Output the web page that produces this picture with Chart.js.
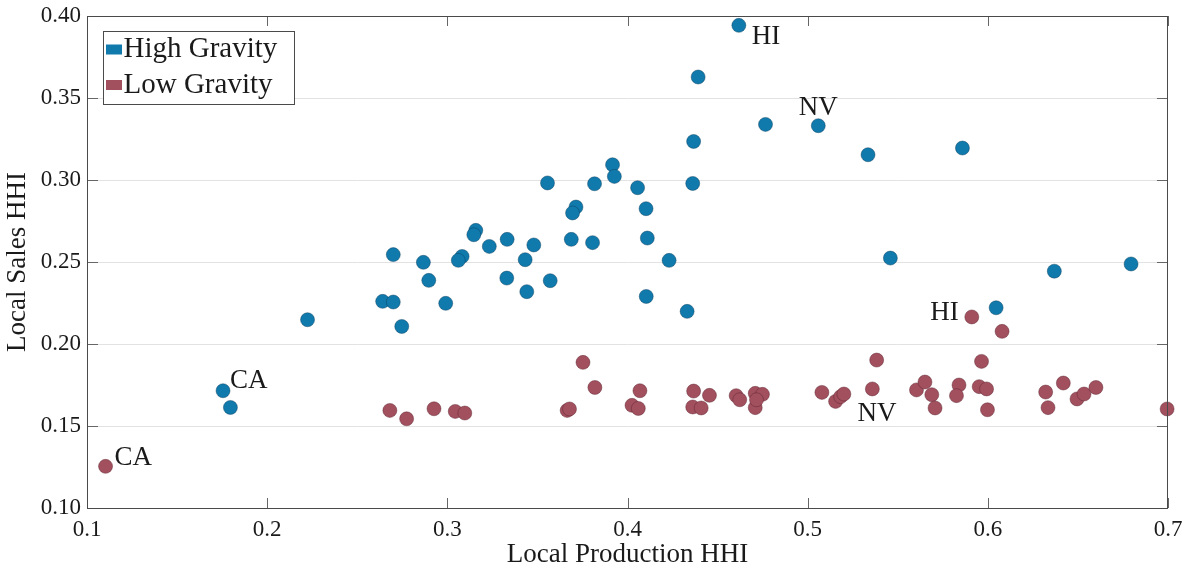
<!DOCTYPE html>
<html>
<head>
<meta charset="utf-8">
<script src="https://cdn.jsdelivr.net/npm/chart.js@4.4.1/dist/chart.umd.min.js"></script>
<style>
  html, body { margin: 0; padding: 0; background: #fff; }
  #wrap { width: 1188px; height: 571px; position: relative; }
</style>
</head>
<body>
<div id="wrap"><canvas id="scatter"></canvas></div>
<script>
const xTicks = [0.1, 0.2, 0.3, 0.4, 0.5, 0.6, 0.7];
const yTicks = [0.10, 0.15, 0.20, 0.25, 0.30, 0.35, 0.40];
const seriesNames = ['High Gravity', 'Low Gravity'];

const highX = [0.4618, 0.4392, 0.4766, 0.5059, 0.5335, 0.5859, 0.4367, 0.3917, 0.3927, 0.3556,
  0.3817, 0.4056, 0.4362, 0.4103, 0.3714, 0.3695, 0.3158, 0.3147, 0.3233, 0.3332,
  0.3480, 0.3688, 0.3806, 0.4110, 0.3082, 0.3061, 0.3432, 0.4231, 0.2700, 0.2867,
  0.5459, 0.6369, 0.6795, 0.2897, 0.3330, 0.3571, 0.3441, 0.2641, 0.2700, 0.2991,
  0.4104, 0.4331, 0.2224, 0.2747, 0.6046, 0.1755, 0.1796];
const highY = [0.3943, 0.3628, 0.3339, 0.3331, 0.3154, 0.3195, 0.3235, 0.3093, 0.3022, 0.2982,
  0.2977, 0.2953, 0.2979, 0.2825, 0.2835, 0.2799, 0.2693, 0.2666, 0.2595, 0.2638,
  0.2604, 0.2638, 0.2618, 0.2646, 0.2534, 0.2510, 0.2514, 0.2510, 0.2545, 0.2498,
  0.2524, 0.2444, 0.2488, 0.2388, 0.2402, 0.2386, 0.2319, 0.2260, 0.2256, 0.2248,
  0.2290, 0.2199, 0.2148, 0.2107, 0.2221, 0.1715, 0.1613];

const lowX = [0.1103, 0.2681, 0.2774, 0.2926, 0.3044, 0.3097, 0.3753, 0.3819, 0.3665, 0.3678,
  0.4069, 0.4025, 0.4060, 0.4367, 0.4455, 0.4362, 0.4409, 0.4603, 0.4623, 0.4709,
  0.4749, 0.4709, 0.4716, 0.5079, 0.5155, 0.5183, 0.5201, 0.5383, 0.5359, 0.5604,
  0.5651, 0.5689, 0.5707, 0.5840, 0.5826, 0.5911, 0.6079, 0.5965, 0.5952, 0.5993,
  0.5998, 0.6321, 0.6334, 0.6419, 0.6495, 0.6534, 0.6600, 0.6995];
const lowY = [0.1254, 0.1595, 0.1544, 0.1605, 0.1589, 0.1579, 0.1888, 0.1735, 0.1595, 0.1604,
  0.1715, 0.1626, 0.1607, 0.1713, 0.1687, 0.1616, 0.1610, 0.1685, 0.1660, 0.1699,
  0.1693, 0.1612, 0.1660, 0.1705, 0.1650, 0.1679, 0.1695, 0.1902, 0.1726, 0.1720,
  0.1768, 0.1691, 0.1610, 0.1750, 0.1685, 0.2165, 0.2077, 0.1894, 0.1740, 0.1726,
  0.1599, 0.1707, 0.1612, 0.1762, 0.1665, 0.1695, 0.1735, 0.1604];

// state names attached to points (index -> text)
const highTags = {0: 'HI', 3: 'NV', 45: 'CA'};
const lowTags = {0: 'CA', 35: 'HI', 24: 'NV'};

const BLUE = 'rgb(17,122,173)';
const RED = 'rgb(162,79,94)';
const SERIF = '"Liberation Serif", "DejaVu Serif", serif';
const INK = '#1a1a1a';

Chart.defaults.font.family = SERIF;
Chart.defaults.color = INK;

const toPoints = (xs, ys) => xs.map((x, i) => ({x: x, y: ys[i]}));

// pixel offsets of each tag from its point: [dx, dy(baseline), align]
const tagPlace = {
  'High Gravity': {HI: [13, 19, 'left'], NV: [0, -11, 'center'], CA: [7, -3, 'left']},
  'Low Gravity': {CA: [9, -1, 'left'], HI: [-13, 3, 'right'], NV: [22, 20, 'left']}
};

const frame = {
  id: 'frame',
  afterDatasetsDraw(chart) {
    const {ctx, chartArea: a, scales} = chart;
    ctx.save();
    ctx.strokeStyle = '#666';
    ctx.lineWidth = 1;
    ctx.beginPath();
    xTicks.forEach(v => {
      const px = Math.round(scales.x.getPixelForValue(v)) + 0.5;
      ctx.moveTo(px, a.top); ctx.lineTo(px, a.top + 10);
      ctx.moveTo(px, a.bottom); ctx.lineTo(px, a.bottom - 10);
    });
    yTicks.forEach(v => {
      const py = Math.round(scales.y.getPixelForValue(v)) + 0.5;
      ctx.moveTo(a.left, py); ctx.lineTo(a.left + 11, py);
      ctx.moveTo(a.right, py); ctx.lineTo(a.right - 11, py);
    });
    ctx.stroke();
    ctx.strokeStyle = '#4a4a4a';
    ctx.strokeRect(a.left + 0.5, a.top + 0.5, a.right - a.left - 1, a.bottom - a.top);
    ctx.restore();
  },
  afterDraw(chart) {
    const {ctx, chartArea: a} = chart;
    ctx.save();
    // state tags
    ctx.fillStyle = INK;
    ctx.font = '27px ' + SERIF;
    ctx.textBaseline = 'alphabetic';
    chart.data.datasets.forEach((ds, di) => {
      const meta = chart.getDatasetMeta(di);
      const tags = di === 0 ? highTags : lowTags;
      Object.keys(tags).forEach(k => {
        const el = meta.data[+k];
        const name = tags[k];
        const p = tagPlace[ds.label][name];
        ctx.textAlign = p[2];
        ctx.fillText(name, el.x + p[0], el.y + p[1]);
      });
    });
    // legend box
    const bx = Math.round(a.left + 16) + 0.5, by = Math.round(a.top + 15) + 0.5;
    const bw = 191, bh = 73;
    ctx.fillStyle = '#fff';
    ctx.fillRect(bx, by, bw, bh);
    ctx.strokeStyle = '#4a4a4a';
    ctx.lineWidth = 1;
    ctx.strokeRect(bx, by, bw, bh);
    ctx.font = '29px ' + SERIF;
    ctx.textAlign = 'left';
    chart.data.datasets.forEach((ds, i) => {
      const rowY = by + 18 + i * 35.5;
      ctx.fillStyle = ds.backgroundColor;
      ctx.fillRect(bx + 2.5, rowY - 5, 16, 10);
      ctx.fillStyle = INK;
      ctx.fillText(ds.label, bx + 20, by + 25.5 + i * 35.5);
    });
    ctx.restore();
  }
};

new Chart(document.getElementById('scatter'), {
  type: 'scatter',
  data: {
    datasets: [
      {
        label: seriesNames[0],
        data: toPoints(highX, highY),
        backgroundColor: BLUE,
        borderColor: 'rgba(10,60,90,0.55)',
        borderWidth: 0.8,
        pointRadius: 7,
        clip: false
      },
      {
        label: seriesNames[1],
        data: toPoints(lowX, lowY),
        backgroundColor: RED,
        borderColor: 'rgba(90,35,45,0.55)',
        borderWidth: 0.8,
        pointRadius: 7,
        clip: false
      }
    ]
  },
  options: {
    responsive: true,
    maintainAspectRatio: false,
    animation: false,
    layout: {padding: {top: 16, right: 20, left: 0, bottom: 0}},
    plugins: {
      legend: {display: false},
      tooltip: {enabled: false}
    },
    scales: {
      x: {
        type: 'linear',
        min: 0.1,
        max: 0.7,
        afterBuildTicks: s => { s.ticks = xTicks.map(v => ({value: v})); },
        afterFit: s => { s.height = 63; s.paddingLeft = 0; s.paddingRight = 0; },
        grid: {display: false, drawTicks: false},
        border: {display: false},
        ticks: {
          padding: 8,
          font: {size: 23},
          color: INK,
          maxRotation: 0,
          callback: v => v.toFixed(1)
        },
        title: {
          display: true,
          text: 'Local Production HHI',
          font: {size: 27},
          color: INK,
          padding: {top: 0, bottom: 0}
        }
      },
      y: {
        type: 'linear',
        min: 0.1,
        max: 0.4,
        afterBuildTicks: s => { s.ticks = yTicks.map(v => ({value: v})); },
        afterFit: s => { s.width = 87; s.paddingTop = 0; s.paddingBottom = 0; },
        grid: {color: '#e2e2e2', lineWidth: 1, drawTicks: false},
        border: {display: false},
        ticks: {
          padding: 6,
          font: {size: 23},
          color: INK,
          callback: v => v.toFixed(2)
        },
        title: {
          display: true,
          text: 'Local Sales HHI',
          font: {size: 27},
          color: INK,
          padding: {top: 2, bottom: 0}
        }
      }
    }
  },
  plugins: [frame]
});
</script>
</body>
</html>
